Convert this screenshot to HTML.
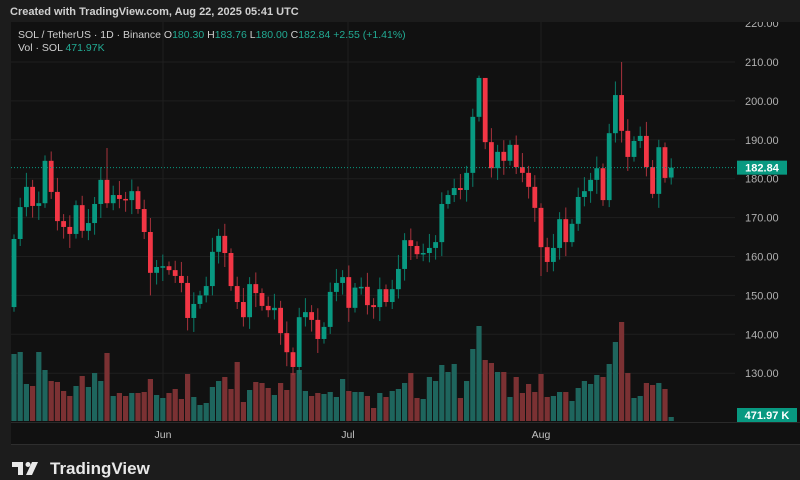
<!DOCTYPE html>
<html><head><meta charset="utf-8"><style>
html,body{margin:0;padding:0;background:#1c1c1c;width:800px;height:480px;overflow:hidden;font-family:"Liberation Sans",sans-serif}
svg{position:absolute;left:0;top:0}
</style></head><body>
<svg id="s" width="800" height="480" xmlns="http://www.w3.org/2000/svg">
<rect x="0" y="0" width="800" height="480" fill="#1c1c1c"/>
<rect x="11" y="22" width="789" height="423" fill="#111111"/>
<line x1="11" y1="422.5" x2="800" y2="422.5" stroke="#2a2a2a"/>
<line x1="11" y1="444.5" x2="800" y2="444.5" stroke="#2e2e2e"/>
<g id="grid"></g>
<g id="vol"></g>
<g id="cand"></g>
<g id="axis" font-size="11" fill="#b0b0b0"></g>
<rect x="0" y="0" width="800" height="22" fill="#1c1c1c"/>
<text x="10" y="15" fill="#d0d0d0" font-size="11" font-weight="bold">Created with TradingView.com, Aug 22, 2025 05:41 UTC</text>
<text x="18" y="38" font-size="10.5" fill="#cfcfcf">SOL / TetherUS · 1D · Binance <tspan>O</tspan><tspan fill="#22ab94">180.30</tspan> H<tspan fill="#22ab94">183.76</tspan> L<tspan fill="#22ab94">180.00</tspan> C<tspan fill="#22ab94">182.84</tspan> <tspan fill="#22ab94">+2.55 (+1.41%)</tspan></text>
<text x="18" y="51" font-size="10.5" fill="#cfcfcf">Vol · SOL <tspan fill="#22ab94">471.97K</tspan></text>
<text x="163" y="438" font-size="10.5" fill="#c0c0c0" text-anchor="middle">Jun</text>
<text x="348" y="438" font-size="10.5" fill="#c0c0c0" text-anchor="middle">Jul</text>
<text x="541" y="438" font-size="10.5" fill="#c0c0c0" text-anchor="middle">Aug</text>
<rect x="12" y="462" width="11" height="5" fill="#e8e8e8"/>
<rect x="18" y="462" width="5" height="13" fill="#e8e8e8"/>
<circle cx="28" cy="464.5" r="2.5" fill="#e8e8e8"/>
<polygon points="32,462 38,462 32,475 26,475" fill="#e8e8e8"/>
<text x="50" y="474" font-size="17" font-weight="bold" fill="#e8e8e8">TradingView</text>
</svg>
<script>
var C=[164.5,172.7,177.9,173,173.7,184.6,176.6,169.1,167.6,165.8,173.2,166.6,168.6,173.5,179.7,173.7,175.8,174.8,174.5,176.8,172.2,166.3,155.8,157.3,157.5,156.5,155,153.2,144.2,147.8,150,152.4,161.2,165.3,160.9,152.4,148.3,144.4,152.9,150.6,147.3,146.2,146.8,140.3,135.4,131.6,144.4,145.7,143.7,138.8,141.9,150.9,153.2,154.7,146.8,152,152.2,147.5,147,151.6,148.3,151.6,156.8,164.2,162.7,160.6,160.9,162.2,163.7,173.5,175.8,177.6,177.1,181.5,195.9,205.9,189.4,182.7,186.9,184.6,188.7,183,181.5,177.9,172.5,162.4,158.6,162.2,169.6,163.7,168.4,175.3,176.8,179.7,182.7,174.5,191.7,201.5,192.3,185.6,189.7,191,183,176.1,188.1,180.2,182.84];
var V=[354,352,384,386,352,370,381,382,391,396,386,376,387,373,381,353,396,393,396,393,393,392,379,395,398,393,389,399,374,397,405,403,387,381,377,389,362,402,390,382,383,388,395,383,390,373,370,391,396,393,394,392,397,379,391,392,392,396,408,393,397,391,389,383,373,398,399,377,381,365,372,364,398,381,349,326,360,363,372,372,397,377,393,384,392,374,397,396,392,392,401,388,381,384,375,377,364,342,322,373,398,396,383,385,383,389,417];
var hi={15:187.9,98:210,97:205,75:206.5,34:168.4,74:198,76:195,104:190,14:183,5:186};
var lo={22:150,28:141,45:129.5,86:156,103:175,95:173,85:155};
function y(p){return 62+(210-p)*3.89}
var NS="http://www.w3.org/2000/svg";
function el(g,t,a){var e=document.createElementNS(NS,t);for(var k in a)e.setAttribute(k,a[k]);document.getElementById(g).appendChild(e);return e}
for(var p=130;p<=220;p+=10){var yy=y(p);if(p<220)el('grid','line',{x1:11,x2:735,y1:yy,y2:yy,stroke:'#1f1f1f'});var t=el('axis','text',{x:745,y:yy+4});t.textContent=p.toFixed(2);}
[163,348,541].forEach(function(x){el('grid','line',{x1:x,x2:x,y1:22,y2:422,stroke:'#1f1f1f'})});
for(var i=0;i<C.length;i++){
 var x=14+i*6.2,c=C[i],o=i?C[i-1]:147,up=c>=o;
 if(i==106)o=180.3;
 var h=Math.max(o,c)+1.2+((i*7)%5)*0.6,l=Math.min(o,c)-1.2-((i*11)%5)*0.6;
 if(hi[i])h=hi[i];if(lo[i])l=lo[i];
 var col=up?'#089981':'#f23645';
 el('vol','rect',{x:x-2.6,y:V[i],width:5.2,height:421-V[i],fill:up?'#1e655d':'#7b3133'});
 el('cand','line',{x1:x,x2:x,y1:y(h),y2:y(l),stroke:up?'#0a7d6a':'#a8323c','stroke-width':1});
 var t=Math.min(y(o),y(c)),b=Math.max(y(o),y(c));if(b-t<1.5)b=t+1.5;
 el('cand','rect',{x:x-2.4,y:t,width:4.8,height:b-t,fill:col});
}
var ly=y(182.84);
el('cand','line',{x1:11,x2:735,y1:ly,y2:ly,stroke:'#089981','stroke-dasharray':'1 2','stroke-width':1});
el('cand','rect',{x:737,y:ly-7,width:50,height:14,fill:'#089981'});
var t=el('cand','text',{x:762,y:ly+4,'font-size':11,fill:'#fff','text-anchor':'middle','font-weight':'bold'});t.textContent='182.84';
el('cand','rect',{x:737,y:408,width:60,height:14,fill:'#089981'});
t=el('cand','text',{x:767,y:419,'font-size':11,fill:'#fff','text-anchor':'middle','font-weight':'bold'});t.textContent='471.97 K';
</script>
</body></html>
